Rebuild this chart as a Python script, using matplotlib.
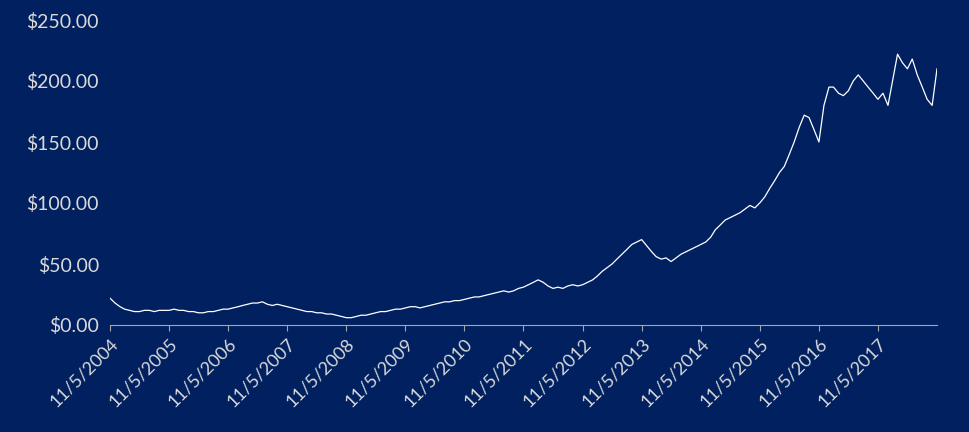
import matplotlib
matplotlib.use("Agg")
import matplotlib.pyplot as plt
import pandas as pd

# monthly closing prices, Nov 2004 .. Nov 2018
prices = [
    22, 18, 15, 13, 12, 11, 11, 12, 12, 11, 12, 12,
    12, 13, 12, 12, 11, 11, 10, 10, 11, 11, 12, 13,
    13, 14, 15, 16, 17, 18, 18, 19, 17, 16, 17, 16,
    15, 14, 13, 12, 11, 11, 10, 10, 9, 9, 8, 7,
    6, 6, 7, 8, 8, 9, 10, 11, 11, 12, 13, 13,
    14, 15, 15, 14, 15, 16, 17, 18, 19, 19, 20, 20,
    21, 22, 23, 23, 24, 25, 26, 27, 28, 27, 28, 30,
    31, 33, 35, 37, 35, 32, 30, 31, 30, 32, 33, 32,
    33, 35, 37, 40, 44, 47, 50, 54, 58, 62, 66, 68,
    70, 65, 60, 56, 54, 55, 52, 55, 58, 60, 62, 64,
    66, 68, 72, 78, 82, 86, 88, 90, 92, 95, 98, 96,
    100, 105, 112, 118, 125, 130, 140, 150, 162, 172, 170, 160,
    150, 180, 195, 195, 190, 188, 192, 200, 205, 200, 195, 190,
    185, 190, 180, 200, 222, 215, 210, 218, 205, 195, 185, 180,
    210,
]
dates = pd.date_range("2004-11-05", periods=len(prices), freq="MS") + pd.Timedelta(days=4)
tick_dates = pd.date_range("2004-11-05", periods=14, freq="12MS") + pd.Timedelta(days=4)
tick_labels = [f"11/5/{d.year}" for d in tick_dates]

navy = "#002060"
txt = "#d9d9d9"
plt.rcParams["font.family"] = ["Lato", "DejaVu Sans"]

fig = plt.figure(figsize=(9.7, 4.32), dpi=100, facecolor=navy)
ax = fig.add_axes([110 / 970, 1 - 325 / 432, 827 / 970, 305 / 432], facecolor=navy)
ax.plot(dates, prices, color="white", lw=0.9)

ax.set_ylim(0, 250)
ax.set_yticks(range(0, 251, 50))
ax.set_yticklabels([f"${v:.2f}" for v in range(0, 251, 50)])
ax.set_xlim(dates[0], dates[-1])
ax.set_xticks(tick_dates)
ax.set_xticklabels(tick_labels, rotation=45, ha="right", rotation_mode="anchor")

ax.tick_params(axis="y", length=0, colors=txt, labelsize=14, pad=8)
ax.tick_params(axis="x", colors="#a6a6a6", labelcolor=txt, labelsize=13, length=4)
for s in ["left", "right", "top"]:
    ax.spines[s].set_visible(False)
ax.spines["bottom"].set_color("#a6a6a6")

fig.savefig("out.png", dpi=100, facecolor=navy)
